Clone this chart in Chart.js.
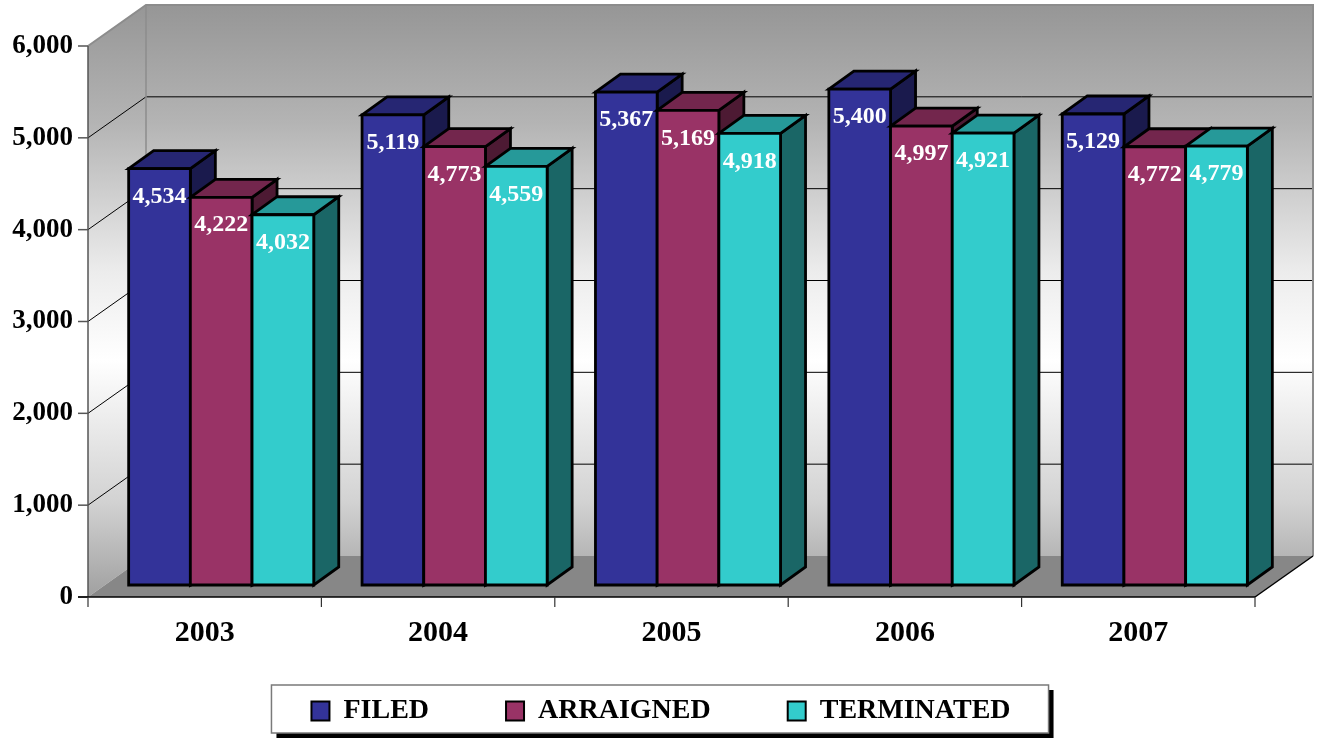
<!DOCTYPE html>
<html><head><meta charset="utf-8">
<script src="https://cdn.jsdelivr.net/npm/chart.js@4"></script>
<style>html,body{margin:0;padding:0;background:#fff;} canvas{display:block;}</style>
</head><body>
<canvas id="c" width="1319" height="738"></canvas>
<script>
const years = ['2003', '2004', '2005', '2006', '2007'];
const filed = [4534, 5119, 5367, 5400, 5129];
const arraigned = [4222, 4773, 5169, 4997, 4772];
const terminated = [4032, 4559, 4918, 4921, 4779];
const seriesNames = ['FILED', 'ARRAIGNED', 'TERMINATED'];
const yTicks = [0, 1000, 2000, 3000, 4000, 5000, 6000];

const FRONT = ['#333399', '#993366', '#33cccc'];
const TOPC = ['#262673', '#73264d', '#269999'];
const SIDE = ['#1a1a4d', '#4d1a33', '#1a6666'];
const WALL_D = {x: 58, y: -41};
const BAR_OFF = {x: 16.5, y: -12};
const BAR_D = {x: 25, y: -18};
const SERIF = '"Liberation Serif", "Times New Roman", serif';
const Y_FONT = {family: SERIF, size: 27, weight: 'bold'};

const fmt = v => Number(v).toLocaleString('en-US');
const mctx = document.createElement('canvas').getContext('2d');
mctx.font = 'bold ' + Y_FONT.size + 'px ' + SERIF;
const widestY = Math.max(...yTicks.map(v => mctx.measureText(fmt(v)).width));

function seg(ctx, x1, y1, x2, y2) { ctx.beginPath(); ctx.moveTo(x1, y1); ctx.lineTo(x2, y2); ctx.stroke(); }
function poly(ctx, pts, fill, stroke) {
  ctx.beginPath(); ctx.moveTo(pts[0][0], pts[0][1]);
  for (let k = 1; k < pts.length; k++) ctx.lineTo(pts[k][0], pts[k][1]);
  ctx.closePath();
  if (fill) { ctx.fillStyle = fill; ctx.fill(); }
  if (stroke) { ctx.strokeStyle = stroke; ctx.stroke(); }
}

const threeD = {
  id: 'threeD',
  beforeDraw(chart) {
    const ctx = chart.ctx, a = chart.chartArea, ys = chart.scales.y;
    const L = a.left, R = a.right;
    const T = ys.getPixelForValue(yTicks[yTicks.length - 1]), B = ys.getPixelForValue(0);
    const dx = WALL_D.x, dy = WALL_D.y;
    ctx.save();
    ctx.fillStyle = '#fff'; ctx.fillRect(0, 0, chart.width, chart.height);
    const g = ctx.createLinearGradient(0, T + dy, 0, B);
    g.addColorStop(0, '#969696');
    g.addColorStop(0.2, '#b4b4b4');
    g.addColorStop(0.45, '#ececec');
    g.addColorStop(0.6, '#ffffff');
    g.addColorStop(0.84, '#d2d2d2');
    g.addColorStop(1, '#a0a0a0');
    ctx.fillStyle = g;
    ctx.fillRect(L + dx, T + dy, R - L, B - T);
    poly(ctx, [[L, T], [L + dx, T + dy], [L + dx, B + dy], [L, B]], g);
    poly(ctx, [[L, B], [R, B], [R + dx, B + dy], [L + dx, B + dy]], '#878787');
    ctx.strokeStyle = '#000'; ctx.lineWidth = 1;
    yTicks.forEach(v => {
      if (v === 0 || v === yTicks[yTicks.length - 1]) return;
      const y = ys.getPixelForValue(v);
      seg(ctx, L, y, L + dx, y + dy);
      seg(ctx, L + dx, y + dy, R + dx, y + dy);
    });
    ctx.strokeStyle = '#8c8c8c'; ctx.lineWidth = 2;
    ctx.beginPath(); ctx.moveTo(L, T); ctx.lineTo(L + dx, T + dy); ctx.lineTo(R + dx, T + dy); ctx.lineTo(R + dx, B + dy); ctx.stroke();
    ctx.lineWidth = 1.5;
    seg(ctx, L + dx, T + dy, L + dx, B + dy);
    ctx.strokeStyle = '#555'; ctx.lineWidth = 1.5;
    seg(ctx, L, T, L, B);
    yTicks.forEach(v => { const y = ys.getPixelForValue(v); seg(ctx, L - 10, y, L, y); });
    ctx.strokeStyle = '#000'; ctx.lineWidth = 1.5;
    seg(ctx, L - 10, B, R, B);
    seg(ctx, R, B, R + dx, B + dy);
    const n = years.length, cw = (R - L) / n;
    ctx.strokeStyle = '#333'; ctx.lineWidth = 1.2;
    for (let k = 0; k <= n; k++) { const x = L + k * cw; seg(ctx, x, B, x, B + 10); }
    const hb = chart.legend && chart.legend.legendHitBoxes;
    if (hb && hb.length) {
      const last = hb[hb.length - 1];
      const lx = hb[0].left - 40, rx = last.left + last.width + 38;
      const ty = hb[0].top - 12, by = hb[0].top + 36;
      ctx.fillStyle = '#000'; ctx.fillRect(lx + 5, ty + 5, rx - lx, by - ty);
      ctx.fillStyle = '#fff'; ctx.fillRect(lx, ty, rx - lx, by - ty);
      ctx.strokeStyle = '#7a7a7a'; ctx.lineWidth = 1.5; ctx.strokeRect(lx, ty, rx - lx, by - ty);
    }
    ctx.restore();
  },
  beforeDatasetsDraw(chart) {
    const ctx = chart.ctx;
    const metas = chart.data.datasets.map((d, i) => chart.getDatasetMeta(i));
    ctx.save();
    ctx.lineWidth = 2.8; ctx.lineJoin = 'miter';
    const labelsToDraw = [];
    for (let j = 0; j < years.length; j++) {
      metas.forEach((m, i) => {
        const el = m.data[j];
        const p = el.getProps(['x', 'y', 'base', 'width'], true);
        const x0 = p.x - p.width / 2 + BAR_OFF.x, x1 = p.x + p.width / 2 + BAR_OFF.x;
        const yt = p.y + BAR_OFF.y, yb = p.base + BAR_OFF.y;
        const ddx = BAR_D.x, ddy = BAR_D.y;
        poly(ctx, [[x1, yt], [x1 + ddx, yt + ddy], [x1 + ddx, yb + ddy], [x1, yb]], SIDE[i], '#000');
        poly(ctx, [[x0, yt], [x0 + ddx, yt + ddy], [x1 + ddx, yt + ddy], [x1, yt]], TOPC[i], '#000');
        poly(ctx, [[x0, yt], [x1, yt], [x1, yb], [x0, yb]], FRONT[i], '#000');
        const v = chart.data.datasets[i].data[j];
        labelsToDraw.push([fmt(v), (x0 + x1) / 2, yt + 28]);
      });
    }
    ctx.fillStyle = '#fff';
    ctx.font = 'bold 24px ' + SERIF;
    ctx.textAlign = 'center'; ctx.textBaseline = 'middle';
    labelsToDraw.forEach(l => ctx.fillText(l[0], l[1], l[2]));
    ctx.restore();
    return false;
  }
};

const seriesData = [filed, arraigned, terminated];
new Chart(document.getElementById('c'), {
  type: 'bar',
  data: {
    labels: years,
    datasets: seriesNames.map((nm, i) => ({
      label: nm, data: seriesData[i], backgroundColor: FRONT[i], borderColor: '#000', borderWidth: 2
    }))
  },
  options: {
    responsive: false, animation: false, devicePixelRatio: 1,
    layout: {padding: {left: 67, right: 64, top: 46, bottom: 3}},
    datasets: {bar: {categoryPercentage: 0.793, barPercentage: 1}},
    plugins: {
      legend: {
        position: 'bottom',
        labels: {boxWidth: 18, boxHeight: 19, padding: 77, color: '#000',
          font: {family: SERIF, size: 28, weight: 'bold'}}
      },
      tooltip: {enabled: false}
    },
    scales: {
      x: {
        grid: {display: false, drawTicks: false}, border: {display: false},
        ticks: {mirror: true, padding: -54, color: '#000', font: {family: SERIF, size: 30, weight: 'bold'}},
        afterFit(s) { s.height = 23; }
      },
      y: {
        min: 0, max: 6000,
        grid: {display: false, drawTicks: false}, border: {display: false},
        ticks: {mirror: true, crossAlign: 'far', stepSize: 1000, padding: 73 - 88 - widestY, color: '#000', font: Y_FONT,
          callback: fmt},
        afterFit(s) { s.width = 21; }
      }
    }
  },
  plugins: [threeD]
});
</script>
</body></html>
